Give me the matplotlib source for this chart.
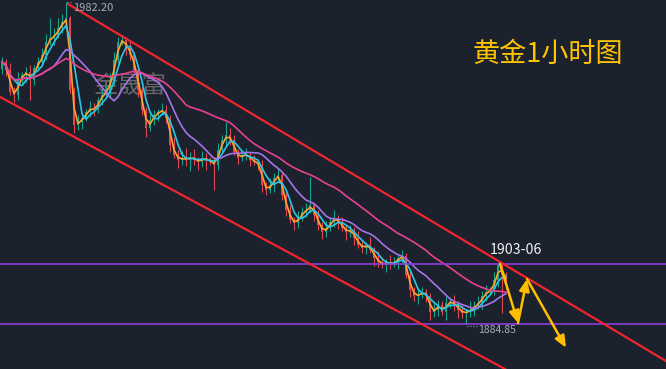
import numpy as np
import pandas as pd
import matplotlib
matplotlib.use("Agg")
import matplotlib.pyplot as plt

plt.rcParams['font.family'] = ['Noto Sans CJK SC', 'DejaVu Sans']

# 收盘价 (1小时K线, 读图估计)
closes = [
    1964.1, 1961.7, 1955.0, 1954.1, 1958.6, 1960.1, 1961.1, 1958.6, 1962.3, 1964.1,
    1966.2, 1970.1, 1971.3, 1972.2, 1974.3, 1976.2, 1977.4, 1955.6, 1945.0, 1945.9,
    1947.2, 1949.0, 1950.2, 1949.6, 1952.6, 1954.1, 1955.6, 1958.6, 1964.7, 1970.1,
    1970.7, 1968.3, 1966.2, 1961.7, 1955.6, 1949.6, 1944.1, 1946.5, 1948.1, 1949.0,
    1949.6, 1947.2, 1939.0, 1936.0, 1934.5, 1935.1, 1934.5, 1935.4, 1934.5, 1933.9,
    1935.1, 1934.5, 1933.9, 1933.0, 1937.5, 1940.5, 1942.0, 1940.5, 1936.9, 1935.1,
    1936.0, 1936.0, 1934.5, 1933.9, 1933.0, 1926.9, 1925.4, 1926.9, 1929.0, 1929.9,
    1923.9, 1919.4, 1916.3, 1915.4, 1916.9, 1918.8, 1919.4, 1920.9, 1917.9, 1914.8,
    1912.7, 1913.9, 1915.7, 1916.9, 1915.7, 1913.9, 1912.7, 1913.3, 1910.9, 1908.8,
    1907.9, 1908.8, 1907.3, 1904.9, 1903.6, 1902.7, 1903.6, 1903.0, 1903.6, 1904.9,
    1905.5, 1899.7, 1895.2, 1893.4, 1893.7, 1894.6, 1893.4, 1888.5, 1889.2, 1890.7,
    1888.5, 1891.3, 1891.6, 1890.7, 1889.2, 1888.2, 1888.5, 1889.2, 1890.4, 1891.3,
    1893.4, 1894.6, 1895.2, 1898.2, 1902.7, 1899.7, 1897.6,
]
first_open = 1962.0

# 上影线长度
wick_up = [
    1.5, 1.0, 2.0, 1.5, 2.5, 1.0, 1.5, 2.0, 1.0, 1.5,
    2.0, 2.5, 6.0, 2.0, 3.0, 2.5, 4.8, 0.5, 1.0, 2.0,
    1.5, 1.0, 2.0, 1.5, 1.0, 2.5, 1.5, 2.0, 2.5, 1.5,
    1.5, 1.0, 2.0, 1.0, 1.5, 1.0, 1.0, 2.0, 1.5, 1.0,
    2.0, 1.5, 1.0, 2.5, 1.5, 2.0, 3.0, 1.5, 2.5, 1.0,
    2.0, 1.5, 1.0, 1.5, 2.0, 1.5, 4.0, 2.0, 1.5, 1.0,
    1.5, 2.0, 1.0, 1.5, 1.0, 1.5, 1.0, 2.0, 1.5, 2.0,
    1.0, 1.0, 1.5, 1.0, 2.0, 1.5, 2.0, 8.4, 1.0, 1.5,
    1.0, 2.0, 1.5, 2.5, 1.0, 1.5, 1.0, 1.5, 1.0, 2.0,
    1.5, 1.0, 2.5, 1.0, 2.0, 1.5, 1.0, 2.0, 1.5, 1.0,
    1.8, 1.0, 1.5, 1.0, 2.0, 1.5, 1.0, 1.0, 2.0, 1.5,
    1.0, 2.0, 1.5, 2.0, 1.0, 1.5, 1.0, 2.5, 1.5, 2.0,
    1.5, 2.0, 1.0, 2.5, 0.36, 0.3, 1.0,
]

# 下影线长度
wick_dn = [
    1.5, 2.0, 1.0, 2.0, 1.5, 1.0, 2.0, 6.0, 1.5, 1.0,
    1.0, 1.5, 1.0, 2.0, 1.0, 1.5, 1.0, 1.0, 2.4, 1.5,
    2.0, 1.0, 1.5, 2.0, 1.0, 1.5, 1.0, 2.0, 1.5, 1.0,
    1.0, 2.0, 1.5, 1.0, 2.0, 1.5, 2.7, 1.0, 1.5, 2.0,
    1.0, 1.5, 2.0, 1.0, 2.5, 1.5, 2.0, 3.5, 1.5, 2.5,
    1.5, 3.0, 1.0, 7.6, 1.5, 1.0, 2.0, 1.5, 1.0, 2.0,
    1.0, 1.5, 2.0, 1.0, 1.5, 2.0, 1.5, 1.0, 2.0, 1.0,
    1.5, 2.0, 1.0, 2.0, 1.5, 1.0, 1.5, 1.0, 2.0, 1.5,
    2.0, 1.5, 1.0, 1.5, 2.0, 1.0, 2.5, 1.5, 2.0, 1.0,
    1.5, 2.0, 1.0, 2.5, 1.5, 1.0, 2.0, 1.5, 1.0, 2.0,
    1.5, 1.0, 2.0, 1.5, 2.5, 1.0, 2.0, 2.4, 1.5, 2.0,
    1.0, 2.5, 1.5, 2.0, 2.5, 1.5, 3.35, 1.5, 2.0, 1.0,
    2.0, 1.5, 1.0, 1.5, 2.0, 11.5, 2.0,
]

# 均线周期
ma_periods = [2, 4, 12, 30]
ma_colors = ['#ffa22e', '#2cc6e6', '#a474e8', '#e8428e']

# 关键价位
high_price = 1982.20
resist_price = 1903.06
support_price = 1884.85

# 通道线 (K线序号, 价格)
channel_upper = [(16.5, 1981.6), (166.0, 1873.7)]
channel_lower = [(-0.5, 1953.5), (125.75, 1871.3)]

# 预测走势
forecast = [(124.5, 1903.06), (129.0, 1885.2), (131.25, 1898.5), (141.0, 1877.7)]

df = pd.DataFrame({'close': closes})
df['open'] = df['close'].shift(1).fillna(first_open)
df['high'] = df[['open', 'close']].max(axis=1) + np.array(wick_up)
df['low'] = df[['open', 'close']].min(axis=1) - np.array(wick_dn)
x = np.arange(len(df))

bg = '#1b212d'
fig = plt.figure(figsize=(6.66, 3.69), dpi=100, facecolor=bg)
ax = fig.add_axes([0, 0, 1, 1])
ax.set_facecolor(bg)
ax.set_xlim(-0.5, 166)
ax.set_ylim(1871.3, 1982.8)
ax.axis('off')

# 水印
ax.text(0.195, 0.764, '金晟富', transform=ax.transAxes, fontsize=17.5,
        color='#707070', alpha=0.85, ha='center', va='center', zorder=1)

up = df['close'] >= df['open']
colors = np.where(up, '#16a58c', '#e2474f')
ax.vlines(x, df['low'], df['high'], colors=colors, linewidth=0.8, zorder=2)
ax.bar(x, (df['close'] - df['open']).abs().clip(lower=0.25),
       bottom=df[['open', 'close']].min(axis=1), width=0.55,
       color=colors, linewidth=0, zorder=2)

for n, c in zip(ma_periods, ma_colors):
    ma = df['close'].rolling(n, min_periods=1).mean()
    ax.plot(x, ma, color=c, linewidth=1.2, zorder=3)

ax.axhline(resist_price, color='#8a40dc', linewidth=1.2, zorder=4)
ax.axhline(support_price, color='#8a40dc', linewidth=1.2, zorder=4)

for pts in (channel_upper, channel_lower):
    xs, ys = zip(*pts)
    ax.plot(xs, ys, color='#f0262e', linewidth=1.6, zorder=5)

for (x0, y0), (x1, y1) in zip(forecast[:-1], forecast[1:]):
    ax.annotate('', xy=(x1, y1), xytext=(x0, y0),
                arrowprops=dict(arrowstyle='-|>,head_length=0.7,head_width=0.3',
                                color='#ffbe00', linewidth=1.8,
                                shrinkA=0, shrinkB=0), zorder=6)

# 标注
ax.plot([16.3, 17.6], [high_price, high_price], color='#9a9ea6',
        linewidth=0.8, linestyle=':', zorder=6)
ax.text(17.7, 1980.4, '1982.20', fontsize=8, color='#a8acb4',
        ha='left', va='center', zorder=6)
ax.plot([116.3, 118.8], [1884.3, 1884.3], color='#9a9ea6',
        linewidth=0.8, linestyle=':', zorder=6)
ax.text(119.0, 1883.2, '1884.85', fontsize=7.5, color='#a8acb4',
        ha='left', va='center', zorder=6)
ax.text(128.6, 1907.4, '1903-06', fontsize=10.2, color='#f0f0f0',
        ha='center', va='center', zorder=6)

ax.text(0.823, 0.852, '黄金1小时图', transform=ax.transAxes, fontsize=19.5,
        color='#ffc400', ha='center', va='center', zorder=6)

plt.savefig('out.png', dpi=100, facecolor=bg)
